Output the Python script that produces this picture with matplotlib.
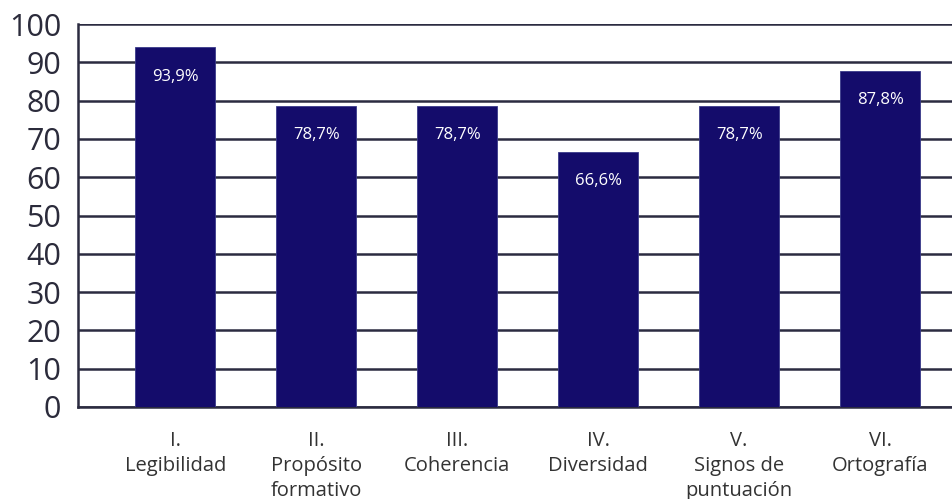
import numpy as np
import matplotlib.pyplot as plt

categories = ["I.\nLegibilidad", "II.\nPropósito\nformativo", "III.\nCoherencia",
              "IV.\nDiversidad", "V.\nSignos de\npuntuación", "VI.\nOrtografía"]
values = [93.9, 78.7, 78.7, 66.6, 78.7, 87.8]
value_labels = ["93,9%", "78,7%", "78,7%", "66,6%", "78,7%", "87,8%"]
yticks = list(range(0, 101, 10))

plt.rcParams['font.family'] = ['Open Sans', 'DejaVu Sans']

fig = plt.figure(figsize=(9.52, 4.99), dpi=100)
ax = fig.add_axes([78/952, 92/499, 1 - 78/952, (407-24)/499])

line_col = '#2b2b40'
bar_col = '#140c6b'

x = np.arange(len(categories))
ax.set_axisbelow(True)
ax.yaxis.grid(True, color=line_col, linewidth=1.8)
ax.bar(x, values, width=0.565, color=bar_col, edgecolor='#3a3a8a', linewidth=0.6, zorder=3)

for xi, v, lab in zip(x, values, value_labels):
    ax.annotate(lab, (xi, v), xytext=(0, -21), textcoords='offset points',
                ha='center', va='center', color='white', fontsize=12, zorder=4)

ax.set_ylim(0, 100)
ax.set_xlim(-0.69, 5.51)
ax.set_yticks(yticks)
ax.set_xticks(x)
ax.set_xticklabels(categories, fontsize=14.5, color='#333333', linespacing=1.35, va='top')
ax.tick_params(axis='y', length=0, pad=12, labelsize=22, labelcolor='#2b2b3b')
ax.tick_params(axis='x', length=0, pad=17)

for s in ['top', 'right']:
    ax.spines[s].set_visible(False)
for s in ['left', 'bottom']:
    ax.spines[s].set_color(line_col)
    ax.spines[s].set_linewidth(1.8)

fig.savefig('out.png', dpi=100)
